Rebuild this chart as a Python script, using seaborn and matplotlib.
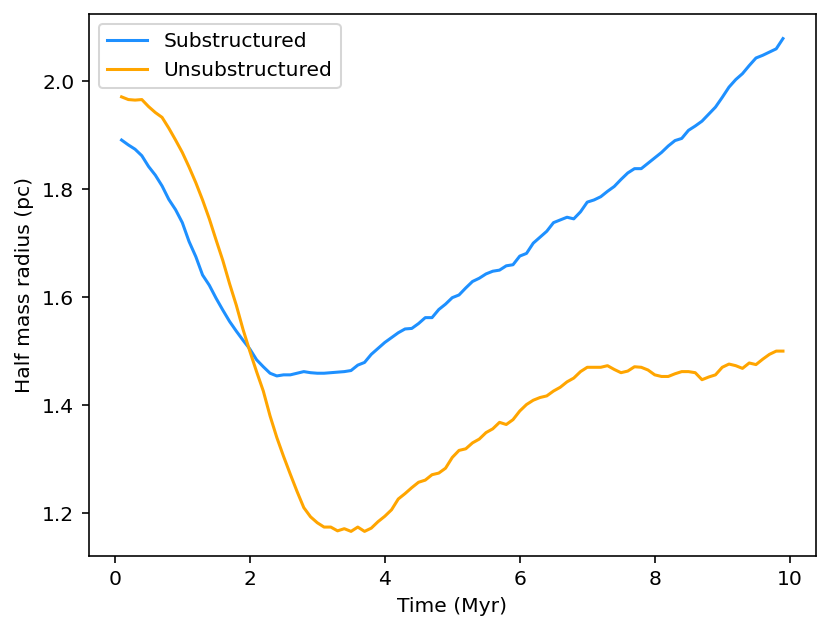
import matplotlib
matplotlib.use("Agg")
import matplotlib.pyplot as plt
import seaborn as sns
import numpy as np
import pandas as pd

# time in Myr, 0.1 .. 9.9
time = np.round(np.arange(1, 100) * 0.1, 1)

substructured = [
    1.891, 1.882, 1.874, 1.862, 1.842, 1.826, 1.806, 1.781, 1.762, 1.738,
    1.703, 1.675, 1.641, 1.622, 1.598, 1.576, 1.555, 1.537, 1.520, 1.504,
    1.484, 1.471, 1.459, 1.454, 1.456, 1.456, 1.459, 1.462, 1.460, 1.459,
    1.459, 1.460, 1.461, 1.462, 1.464, 1.474, 1.479, 1.494, 1.505, 1.516,
    1.525, 1.534, 1.541, 1.542, 1.551, 1.562, 1.562, 1.577, 1.587, 1.599,
    1.604, 1.617, 1.629, 1.635, 1.643, 1.648, 1.650, 1.658, 1.660, 1.676,
    1.681, 1.700, 1.711, 1.722, 1.738, 1.743, 1.748, 1.745, 1.758, 1.776,
    1.780, 1.786, 1.796, 1.805, 1.818, 1.830, 1.838, 1.838, 1.848, 1.858,
    1.868, 1.880, 1.890, 1.894, 1.909, 1.917, 1.926, 1.939, 1.952, 1.970,
    1.989, 2.003, 2.014, 2.029, 2.043, 2.048, 2.054, 2.060, 2.079,
]

unsubstructured = [
    1.971, 1.966, 1.965, 1.966, 1.953, 1.942, 1.933, 1.913, 1.891, 1.868,
    1.841, 1.812, 1.780, 1.745, 1.706, 1.668, 1.625, 1.585, 1.540, 1.500,
    1.462, 1.426, 1.380, 1.340, 1.305, 1.272, 1.240, 1.210, 1.193, 1.182,
    1.174, 1.174, 1.167, 1.171, 1.166, 1.174, 1.166, 1.172, 1.184, 1.194,
    1.206, 1.226, 1.236, 1.247, 1.257, 1.261, 1.271, 1.274, 1.283, 1.303,
    1.316, 1.319, 1.330, 1.337, 1.349, 1.356, 1.368, 1.364, 1.373, 1.389,
    1.401, 1.409, 1.414, 1.417, 1.426, 1.433, 1.443, 1.450, 1.462, 1.470,
    1.470, 1.470, 1.473, 1.466, 1.460, 1.463, 1.471, 1.470, 1.465, 1.456,
    1.453, 1.453, 1.458, 1.462, 1.462, 1.460, 1.447, 1.452, 1.456, 1.470,
    1.476, 1.473, 1.468, 1.478, 1.475, 1.485, 1.494, 1.500, 1.500,
]

df = pd.DataFrame({
    "time": np.concatenate([time, time]),
    "rhalf": substructured + unsubstructured,
    "run": ["Substructured"] * len(time) + ["Unsubstructured"] * len(time),
})

fig, ax = plt.subplots(figsize=(831 / 146, 633 / 146), dpi=146)
fig.subplots_adjust(left=0.1065, right=0.982, top=0.978, bottom=0.1216)

sns.lineplot(data=df, x="time", y="rhalf", hue="run",
             palette=["dodgerblue", "orange"], linewidth=1.5, ax=ax)

ax.set_xlabel("Time (Myr)")
ax.set_ylabel("Half mass radius (pc)")
ax.legend(loc="upper left")

fig.savefig("out.png", dpi=146)
